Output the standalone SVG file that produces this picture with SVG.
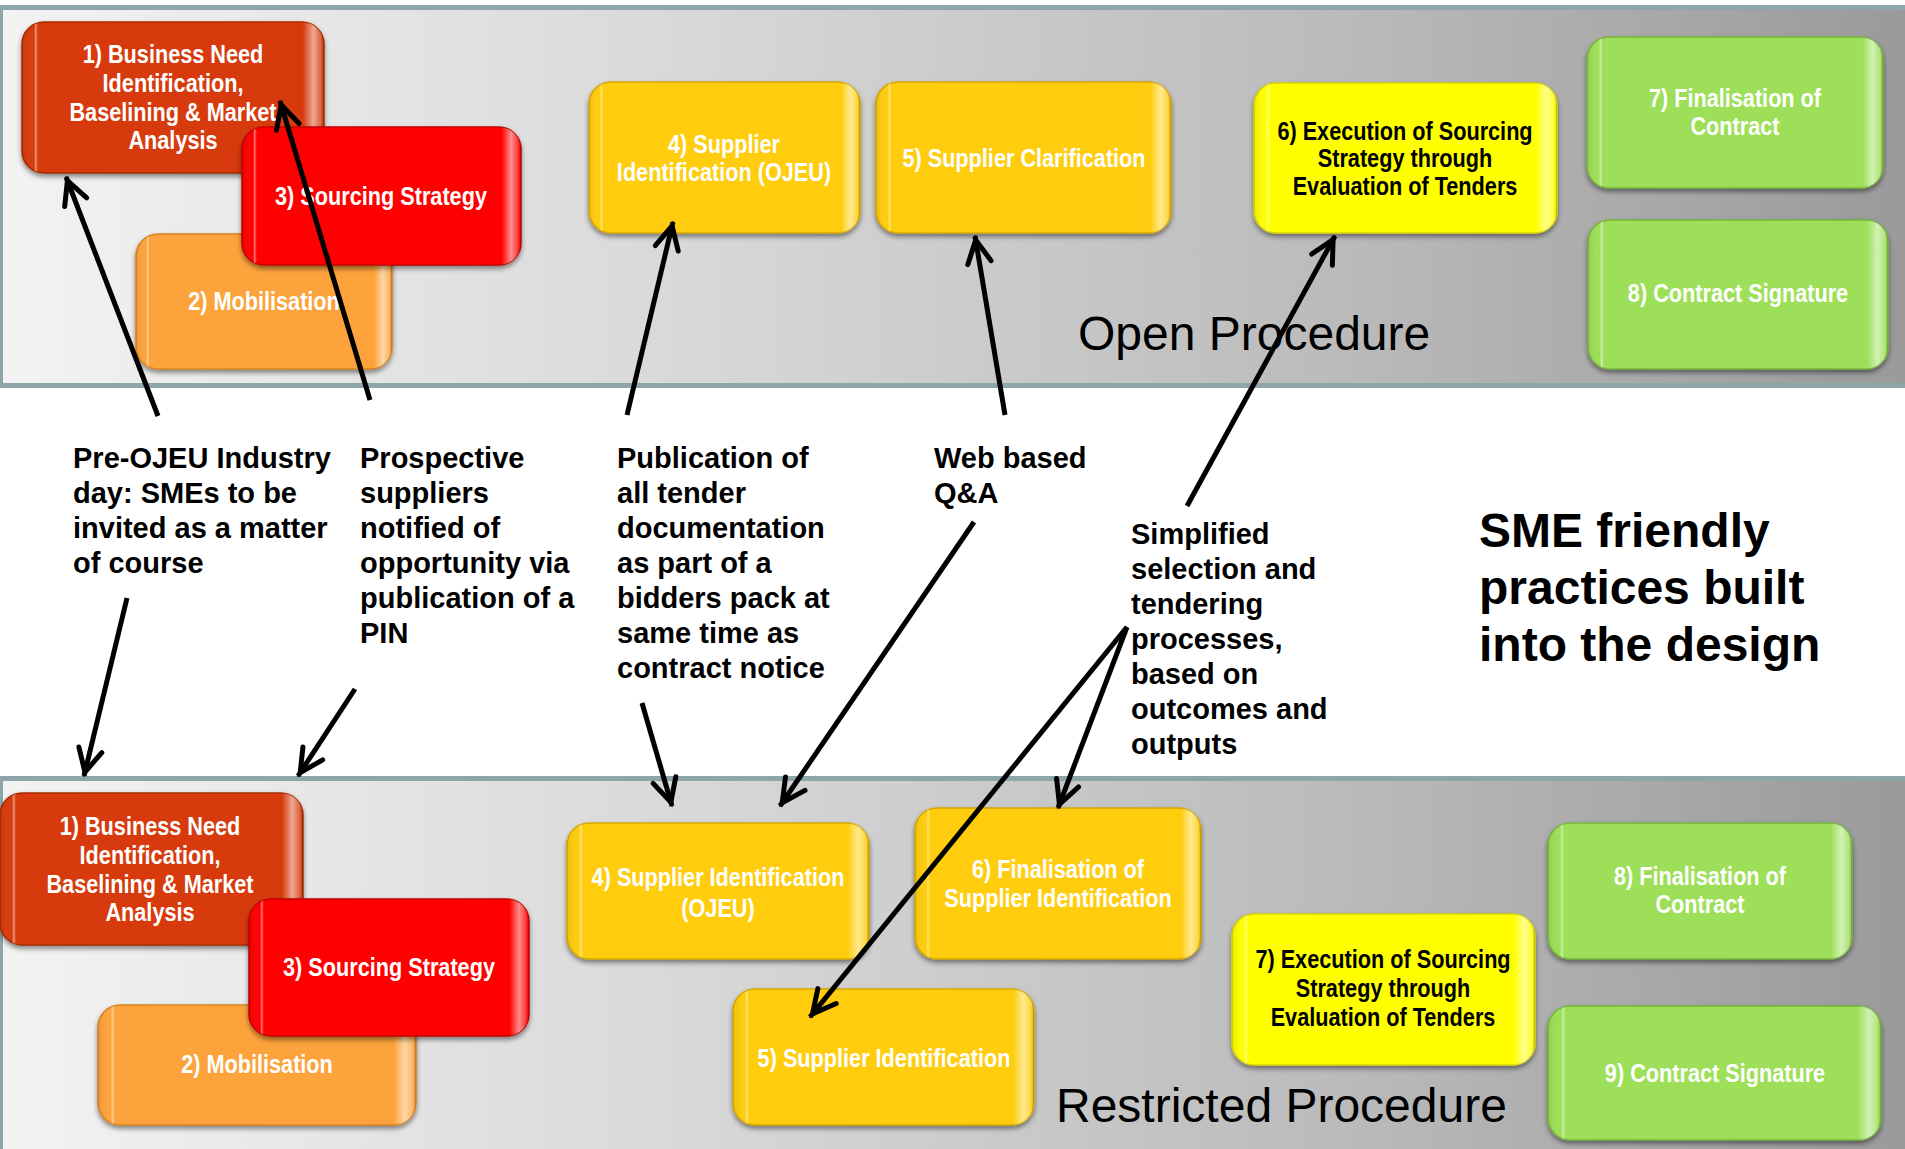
<svg xmlns="http://www.w3.org/2000/svg" width="1905" height="1149" viewBox="0 0 1905 1149">
<defs>
<linearGradient id="band" x1="0" y1="0" x2="1" y2="0">
<stop offset="0" stop-color="#f3f3f3"/>
<stop offset="0.35" stop-color="#d9d9d9"/>
<stop offset="0.7" stop-color="#bbbbbb"/>
<stop offset="1" stop-color="#9a9a9a"/>
</linearGradient>
<linearGradient id="gloss" x1="0" y1="0" x2="1" y2="0">
<stop offset="0" stop-color="#000" stop-opacity="0.08"/>
<stop offset="0.04" stop-color="#fff" stop-opacity="0"/>
<stop offset="0.045" stop-color="#fff" stop-opacity="0.45"/>
<stop offset="0.053" stop-color="#fff" stop-opacity="0"/>
<stop offset="0.93" stop-color="#fff" stop-opacity="0"/>
<stop offset="0.965" stop-color="#fff" stop-opacity="0.55"/>
<stop offset="0.99" stop-color="#fff" stop-opacity="0.2"/>
<stop offset="1" stop-color="#000" stop-opacity="0.15"/>
</linearGradient>
<filter id="shadow" x="-10%" y="-10%" width="120%" height="130%">
<feDropShadow dx="0" dy="3" stdDeviation="2.5" flood-color="#000" flood-opacity="0.45"/>
</filter>
<marker id="ah" markerUnits="userSpaceOnUse" viewBox="-30 -16 36 32" refX="4" refY="0" markerWidth="36" markerHeight="32" orient="auto">
<path d="M-23,-11.8 L0,0 L-23,11.8" fill="none" stroke="#000" stroke-width="5" stroke-linecap="round"/>
</marker>
</defs>
<style>
.box{filter:url(#shadow);stroke-width:1.5}
.gl{fill:url(#gloss);stroke:none}
.or{fill:#d73a07;stroke:#a82c04}
.mo{fill:#fda33b;stroke:#d9821f}
.rd{fill:#ff0303;stroke:#c40000}
.gd{fill:#ffcd07;stroke:#d6a800}
.yl{fill:#ffff00;stroke:#d8d400}
.gr{fill:#9ddf59;stroke:#76b53a}
.lbl{font-family:"Liberation Sans",Arial,sans-serif;font-weight:bold;font-size:25.5px;fill:#fff;text-anchor:middle}
.dk{fill:#000}
.note{font-family:"Liberation Sans",Arial,sans-serif;font-weight:bold;font-size:29px;fill:#000}
.big{font-family:"Liberation Sans",Arial,sans-serif;font-weight:bold;font-size:48px;fill:#000}
.proc{font-family:"Liberation Sans",Arial,sans-serif;font-size:48px;fill:#000}
.cn line{stroke:#000;stroke-width:5;marker-end:url(#ah)}
</style>
<rect width="1905" height="1149" fill="#fff"/>
<g id="open-band">
<rect x="0" y="8" width="1905" height="378" fill="url(#band)"/>
<line x1="0" y1="7.5" x2="1905" y2="7.5" stroke="#8ea6a9" stroke-width="5"/>
<line x1="0" y1="385.5" x2="1905" y2="385.5" stroke="#8ea6a9" stroke-width="5"/>
<line x1="1.5" y1="5" x2="1.5" y2="388" stroke="#8ea6a9" stroke-width="3"/>
<text class="proc" x="1078" y="350">Open Procedure</text>
</g>
<g id="restricted-band">
<rect x="0" y="779" width="1905" height="370" fill="url(#band)"/>
<line x1="0" y1="778.5" x2="1905" y2="778.5" stroke="#8ea6a9" stroke-width="5"/>
<line x1="1.5" y1="776" x2="1.5" y2="1149" stroke="#8ea6a9" stroke-width="3"/>
<text class="proc" x="1056" y="1122">Restricted Procedure</text>
</g>

<g id="o1"><rect class="box or" x="22" y="22" width="302" height="151" rx="22"/><rect class="gl" x="22" y="22" width="302" height="151" rx="22"/>
<text class="lbl" transform="translate(173 0) scale(0.85 1)"><tspan x="0" y="63">1) Business Need</tspan><tspan x="0" y="92">Identification,</tspan><tspan x="0" y="121">Baselining &amp; Market</tspan><tspan x="0" y="149">Analysis</tspan></text></g>
<g id="o2"><rect class="box mo" x="136" y="234" width="256" height="135" rx="22"/><rect class="gl" x="136" y="234" width="256" height="135" rx="22"/>
<text class="lbl" transform="translate(264 0) scale(0.85 1)" x="0" y="310">2) Mobilisation</text></g>
<g id="o3"><rect class="box rd" x="242" y="127" width="279" height="138" rx="22"/><rect class="gl" x="242" y="127" width="279" height="138" rx="22"/>
<text class="lbl" transform="translate(381 0) scale(0.85 1)" x="0" y="205">3) Sourcing Strategy</text></g>
<g id="o4"><rect class="box gd" x="589" y="82" width="271" height="151" rx="22"/><rect class="gl" x="589" y="82" width="271" height="151" rx="22"/>
<text class="lbl" transform="translate(724 0) scale(0.85 1)"><tspan x="0" y="153">4) Supplier</tspan><tspan x="0" y="181">Identification (OJEU)</tspan></text></g>
<g id="o5"><rect class="box gd" x="876" y="82" width="295" height="151" rx="22"/><rect class="gl" x="876" y="82" width="295" height="151" rx="22"/>
<text class="lbl" transform="translate(1024 0) scale(0.85 1)" x="0" y="167">5) Supplier Clarification</text></g>
<g id="o6"><rect class="box yl" x="1254" y="83" width="303" height="150" rx="22"/><rect class="gl" x="1254" y="83" width="303" height="150" rx="22"/>
<text class="lbl dk" transform="translate(1405 0) scale(0.85 1)"><tspan x="0" y="140">6) Execution of Sourcing</tspan><tspan x="0" y="167">Strategy through</tspan><tspan x="0" y="195">Evaluation of Tenders</tspan></text></g>
<g id="o7"><rect class="box gr" x="1587" y="37" width="296" height="151" rx="22"/><rect class="gl" x="1587" y="37" width="296" height="151" rx="22"/>
<text class="lbl" transform="translate(1735 0) scale(0.85 1)"><tspan x="0" y="107">7) Finalisation of</tspan><tspan x="0" y="135">Contract</tspan></text></g>
<g id="o8"><rect class="box gr" x="1588" y="220" width="300" height="149" rx="22"/><rect class="gl" x="1588" y="220" width="300" height="149" rx="22"/>
<text class="lbl" transform="translate(1738 0) scale(0.85 1)" x="0" y="302">8) Contract Signature</text></g>

<g id="r1"><rect class="box or" x="0" y="793" width="303" height="152" rx="22"/><rect class="gl" x="0" y="793" width="303" height="152" rx="22"/>
<text class="lbl" transform="translate(150 0) scale(0.85 1)"><tspan x="0" y="835">1) Business Need</tspan><tspan x="0" y="864">Identification,</tspan><tspan x="0" y="893">Baselining &amp; Market</tspan><tspan x="0" y="921">Analysis</tspan></text></g>
<g id="r2"><rect class="box mo" x="98" y="1005" width="318" height="120" rx="22"/><rect class="gl" x="98" y="1005" width="318" height="120" rx="22"/>
<text class="lbl" transform="translate(257 0) scale(0.85 1)" x="0" y="1073">2) Mobilisation</text></g>
<g id="r3"><rect class="box rd" x="249" y="899" width="280" height="137" rx="22"/><rect class="gl" x="249" y="899" width="280" height="137" rx="22"/>
<text class="lbl" transform="translate(389 0) scale(0.85 1)" x="0" y="976">3) Sourcing Strategy</text></g>
<g id="r4"><rect class="box gd" x="567" y="823" width="302" height="136" rx="22"/><rect class="gl" x="567" y="823" width="302" height="136" rx="22"/>
<text class="lbl" transform="translate(718 0) scale(0.85 1)"><tspan x="0" y="886">4) Supplier Identification</tspan><tspan x="0" y="917">(OJEU)</tspan></text></g>
<g id="r5"><rect class="box gd" x="733" y="989" width="301" height="136" rx="22"/><rect class="gl" x="733" y="989" width="301" height="136" rx="22"/>
<text class="lbl" transform="translate(884 0) scale(0.85 1)" x="0" y="1067">5) Supplier Identification</text></g>
<g id="r6"><rect class="box gd" x="915" y="808" width="286" height="151" rx="22"/><rect class="gl" x="915" y="808" width="286" height="151" rx="22"/>
<text class="lbl" transform="translate(1058 0) scale(0.85 1)"><tspan x="0" y="878">6) Finalisation of</tspan><tspan x="0" y="907">Supplier Identification</tspan></text></g>
<g id="r7"><rect class="box yl" x="1232" y="914" width="303" height="151" rx="22"/><rect class="gl" x="1232" y="914" width="303" height="151" rx="22"/>
<text class="lbl dk" transform="translate(1383 0) scale(0.85 1)"><tspan x="0" y="968">7) Execution of Sourcing</tspan><tspan x="0" y="997">Strategy through</tspan><tspan x="0" y="1026">Evaluation of Tenders</tspan></text></g>
<g id="r8"><rect class="box gr" x="1548" y="823" width="304" height="136" rx="22"/><rect class="gl" x="1548" y="823" width="304" height="136" rx="22"/>
<text class="lbl" transform="translate(1700 0) scale(0.85 1)"><tspan x="0" y="885">8) Finalisation of</tspan><tspan x="0" y="913">Contract</tspan></text></g>
<g id="r9"><rect class="box gr" x="1548" y="1006" width="333" height="134" rx="22"/><rect class="gl" x="1548" y="1006" width="333" height="134" rx="22"/>
<text class="lbl" transform="translate(1715 0) scale(0.85 1)" x="0" y="1082">9) Contract Signature</text></g>

<g id="n-preojeu"><text class="note"><tspan x="73" y="468">Pre-OJEU Industry</tspan><tspan x="73" y="503">day: SMEs to be</tspan><tspan x="73" y="538">invited as a matter</tspan><tspan x="73" y="573">of course</tspan></text></g>
<g id="n-prospective"><text class="note"><tspan x="360" y="468">Prospective</tspan><tspan x="360" y="503">suppliers</tspan><tspan x="360" y="538">notified of</tspan><tspan x="360" y="573">opportunity via</tspan><tspan x="360" y="608">publication of a</tspan><tspan x="360" y="643">PIN</tspan></text></g>
<g id="n-publication"><text class="note"><tspan x="617" y="468">Publication of</tspan><tspan x="617" y="503">all tender</tspan><tspan x="617" y="538">documentation</tspan><tspan x="617" y="573">as part of a</tspan><tspan x="617" y="608">bidders pack at</tspan><tspan x="617" y="643">same time as</tspan><tspan x="617" y="678">contract notice</tspan></text></g>
<g id="n-web"><text class="note"><tspan x="934" y="468">Web based</tspan><tspan x="934" y="503">Q&amp;A</tspan></text></g>
<g id="n-simplified"><text class="note"><tspan x="1131" y="544">Simplified</tspan><tspan x="1131" y="579">selection and</tspan><tspan x="1131" y="614">tendering</tspan><tspan x="1131" y="649">processes,</tspan><tspan x="1131" y="684">based on</tspan><tspan x="1131" y="719">outcomes and</tspan><tspan x="1131" y="754">outputs</tspan></text></g>
<g id="n-sme"><text class="big"><tspan x="1479" y="547">SME friendly</tspan><tspan x="1479" y="604">practices built</tspan><tspan x="1479" y="661">into the design</tspan></text></g>

<g id="connectors" class="cn">
<line x1="158" y1="416" x2="66" y2="177"/>
<line x1="370" y1="400" x2="280" y2="101"/>
<line x1="627" y1="415" x2="673" y2="222"/>
<line x1="1005" y1="415" x2="975" y2="236"/>
<line x1="1187" y1="506" x2="1335" y2="236"/>
<line x1="642" y1="703" x2="672" y2="806"/>
<line x1="974" y1="522" x2="780" y2="806"/>
<line x1="127" y1="598" x2="84" y2="776"/>
<line x1="355" y1="689" x2="298" y2="776"/>
<line x1="1127" y1="627" x2="1058" y2="808"/>
<line x1="1127" y1="627" x2="810" y2="1017"/>
</g>
</svg>
